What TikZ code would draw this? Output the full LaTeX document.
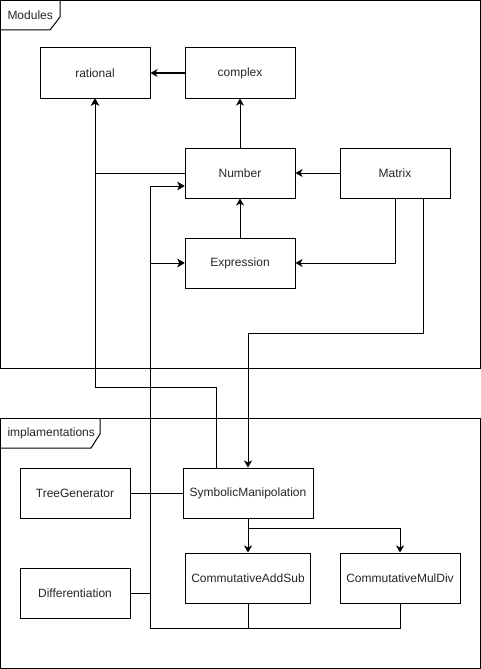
\documentclass[tikz,border=0pt]{standalone}
\usepackage{fontspec}
\setmainfont{Liberation Sans}
\usetikzlibrary{arrows.meta,calc}
\begin{document}
\begin{tikzpicture}[x=1pt,y=-1pt,
  line width=1pt,
  font=\fontsize{12}{14}\selectfont,
  box/.style={draw, rectangle, minimum width=110pt, minimum height=50pt, inner sep=0pt, text=black!85},
  frame/.style={draw, rectangle, inner sep=0pt},
  tabtext/.style={anchor=west, inner sep=0pt, text=black!85},
  arr/.style={-{Stealth[length=7pt,width=8pt,inset=2pt]}}]
\useasboundingbox (0,0) rectangle (481,669);

% package frames
\node[frame, minimum width=480pt, minimum height=367.5pt] (modules) at (240.5,184.25) {};
\draw (0.5,30) -- (50,30) -- (60,17) -- (60,0.5);
\node[tabtext] (modlabel) at (7,15) {Modules};

\node[frame, minimum width=480pt, minimum height=250.5pt] (impl) at (240.5,543.25) {};
\draw (0.5,448) -- (91,448) -- (100,434) -- (100,418);
\node[tabtext] (impllabel) at (7,433) {implamentations};

% classes
\node[box] (rational) at (95,73) {rational};
\node[box] (complex) at (240,73) {complex};
\node[box] (Number) at (240,173) {Number};
\node[box] (Expression) at (240,263) {Expression};
\node[box] (Matrix) at (395,173) {Matrix};
\node[box] (TreeGenerator) at (75,493) {TreeGenerator};
\node[box, minimum width=130pt] (SM) at (248,493) {SymbolicManipolation};
\node[box, minimum width=125pt] (CAS) at (248,578) {CommutativeAddSub};
\node[box, minimum width=120pt] (CMD) at (400,578) {CommutativeMulDiv};
\node[box] (Differentiation) at (75,593) {Differentiation};

\coordinate (bus) at (150,628);

% dependencies inside Modules
\draw[arr] (complex) -- (rational);
\draw[arr] (Number) -- (complex);
\draw[arr] (Matrix) -- (Number);
\draw[arr] (Expression) -- (Number);
\draw[arr] (Matrix.south) |- (Expression.east);
\draw[arr] (Number.west) -| (rational.south);

% dependencies between packages
\draw[arr] ([xshift=-32pt]SM.north) -- ++(0,-80) -| (rational.south);
\draw[arr] ([xshift=28pt]Matrix.south) -- ++(0,135) -| (SM.north);

% implementations
\draw (TreeGenerator) -- (SM);
\draw[arr] (SM) -- (CAS);
\draw[arr] (SM.south) -- ++(0,10) -| (CMD.north);

\draw[arr] (CAS.south) |- (bus) |- ([yshift=-13pt]Number.west);
\draw[arr] (CAS.south) |- (bus) |- (Expression.west);
\draw[arr] (CMD.south) |- (bus) |- ([yshift=-13pt]Number.west);
\draw[arr] (CMD.south) |- (bus) |- (Expression.west);
\draw (Differentiation.east) -- (Differentiation.east -| bus);
\end{tikzpicture}
\end{document}
